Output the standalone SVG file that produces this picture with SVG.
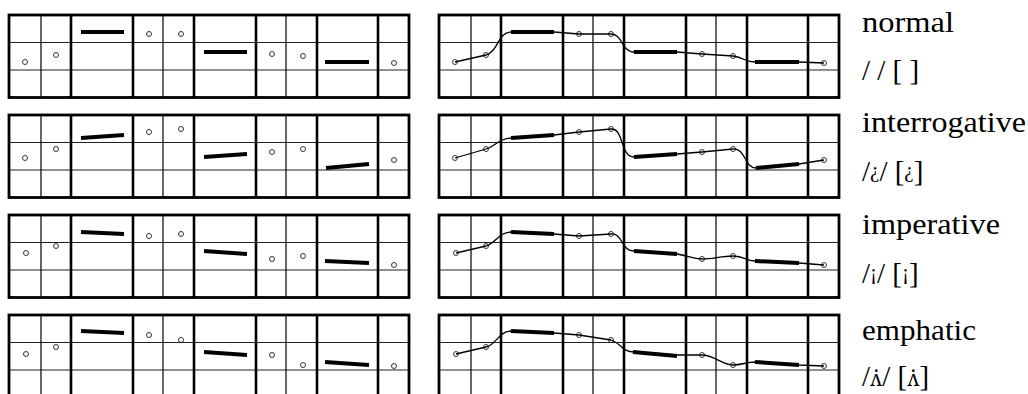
<svg xmlns="http://www.w3.org/2000/svg" xmlns:xlink="http://www.w3.org/1999/xlink" width="1028" height="394" viewBox="0 0 1028 394">
<style>
.outer{fill:#fff;stroke:#000;stroke-width:2.8}
.thick{stroke:#000;stroke-width:2.6}
.thin{stroke:#000;stroke-width:1.2}
.hl{stroke:#222;stroke-width:1.2}
.dot{fill:none;stroke:#222;stroke-width:0.9}
.bar{stroke:#000;stroke-width:4;fill:none}
.curve{stroke:#000;stroke-width:1.3;fill:none}
.lbl{font-size:29px;fill:#000}
.sm{font-size:21px}
</style>
<defs>
<g id="grid">
<rect class="outer" x="0" y="0" width="400" height="82.5"/>
<line class="hl" x1="0" y1="27.5" x2="400" y2="27.5"/>
<line class="hl" x1="0" y1="55" x2="400" y2="55"/>
<line class="thin" x1="32" y1="0" x2="32" y2="82.5"/>
<line class="thin" x1="154" y1="0" x2="154" y2="82.5"/>
<line class="thin" x1="277" y1="0" x2="277" y2="82.5"/>
<line class="thick" x1="62" y1="0" x2="62" y2="82.5"/>
<line class="thick" x1="124" y1="0" x2="124" y2="82.5"/>
<line class="thick" x1="185" y1="0" x2="185" y2="82.5"/>
<line class="thick" x1="247" y1="0" x2="247" y2="82.5"/>
<line class="thick" x1="308" y1="0" x2="308" y2="82.5"/>
<line class="thick" x1="369" y1="0" x2="369" y2="82.5"/>
</g>
</defs>

<g id="normal-left">
<use xlink:href="#grid" x="9" y="15"/>
<circle class="dot" cx="25" cy="62" r="2.5"/><circle class="dot" cx="56" cy="55" r="2.5"/>
<line class="bar" x1="81" y1="32" x2="124" y2="32"/>
<circle class="dot" cx="149" cy="34" r="2.5"/><circle class="dot" cx="181" cy="34" r="2.5"/>
<line class="bar" x1="204" y1="52" x2="247" y2="52"/>
<circle class="dot" cx="272" cy="54" r="2.5"/><circle class="dot" cx="303" cy="56" r="2.5"/>
<line class="bar" x1="325" y1="62" x2="369" y2="62"/>
<circle class="dot" cx="394" cy="63" r="2.5"/>
</g>
<g id="interrogative-left">
<use xlink:href="#grid" x="9" y="115"/>
<circle class="dot" cx="25" cy="158" r="2.5"/><circle class="dot" cx="56" cy="149" r="2.5"/>
<line class="bar" x1="81" y1="138" x2="124" y2="135"/>
<circle class="dot" cx="149" cy="132" r="2.5"/><circle class="dot" cx="181" cy="129" r="2.5"/>
<line class="bar" x1="204" y1="157" x2="247" y2="154"/>
<circle class="dot" cx="272" cy="152" r="2.5"/><circle class="dot" cx="303" cy="149" r="2.5"/>
<line class="bar" x1="326" y1="168" x2="369" y2="164"/>
<circle class="dot" cx="394" cy="160" r="2.5"/>
</g>
<g id="imperative-left">
<use xlink:href="#grid" x="9" y="215"/>
<circle class="dot" cx="26" cy="253" r="2.5"/><circle class="dot" cx="56" cy="246" r="2.5"/>
<line class="bar" x1="81" y1="232" x2="124" y2="234"/>
<circle class="dot" cx="149" cy="236" r="2.5"/><circle class="dot" cx="181" cy="234" r="2.5"/>
<line class="bar" x1="204" y1="251" x2="247" y2="254"/>
<circle class="dot" cx="272" cy="259" r="2.5"/><circle class="dot" cx="303" cy="256" r="2.5"/>
<line class="bar" x1="325" y1="261" x2="369" y2="263"/>
<circle class="dot" cx="394" cy="265" r="2.5"/>
</g>
<g id="emphatic-left">
<use xlink:href="#grid" x="9" y="315"/>
<circle class="dot" cx="26" cy="354" r="2.5"/><circle class="dot" cx="56" cy="347" r="2.5"/>
<line class="bar" x1="81" y1="331" x2="124" y2="333"/>
<circle class="dot" cx="149" cy="335" r="2.5"/><circle class="dot" cx="181" cy="340" r="2.5"/>
<line class="bar" x1="204" y1="352" x2="247" y2="355"/>
<circle class="dot" cx="272" cy="355" r="2.5"/><circle class="dot" cx="303" cy="365" r="2.5"/>
<line class="bar" x1="325" y1="362" x2="369" y2="365"/>
<circle class="dot" cx="394" cy="366" r="2.5"/>
</g>

<g id="normal-right">
<use xlink:href="#grid" x="439" y="15"/>
<line class="bar" x1="511" y1="32" x2="554" y2="32"/>
<line class="bar" x1="634" y1="52" x2="677" y2="52"/>
<line class="bar" x1="755" y1="62" x2="799" y2="62"/>
<circle class="dot" cx="455" cy="62" r="2.5"/><circle class="dot" cx="486" cy="55" r="2.5"/>
<circle class="dot" cx="579" cy="34" r="2.5"/><circle class="dot" cx="611" cy="34" r="2.5"/>
<circle class="dot" cx="702" cy="54" r="2.5"/><circle class="dot" cx="733" cy="56" r="2.5"/>
<circle class="dot" cx="824" cy="63" r="2.5"/>
</g>
<g id="interrogative-right">
<use xlink:href="#grid" x="439" y="115"/>
<line class="bar" x1="511" y1="138" x2="554" y2="135"/>
<line class="bar" x1="634" y1="157" x2="677" y2="154"/>
<line class="bar" x1="756" y1="168" x2="799" y2="164"/>
<circle class="dot" cx="455" cy="158" r="2.5"/><circle class="dot" cx="486" cy="149" r="2.5"/>
<circle class="dot" cx="579" cy="132" r="2.5"/><circle class="dot" cx="611" cy="129" r="2.5"/>
<circle class="dot" cx="702" cy="152" r="2.5"/><circle class="dot" cx="733" cy="149" r="2.5"/>
<circle class="dot" cx="824" cy="160" r="2.5"/>
</g>
<g id="imperative-right">
<use xlink:href="#grid" x="439" y="215"/>
<line class="bar" x1="511" y1="232" x2="554" y2="234"/>
<line class="bar" x1="634" y1="251" x2="677" y2="254"/>
<line class="bar" x1="755" y1="261" x2="799" y2="263"/>
<circle class="dot" cx="456" cy="253" r="2.5"/><circle class="dot" cx="486" cy="246" r="2.5"/>
<circle class="dot" cx="579" cy="236" r="2.5"/><circle class="dot" cx="611" cy="234" r="2.5"/>
<circle class="dot" cx="702" cy="259" r="2.5"/><circle class="dot" cx="733" cy="256" r="2.5"/>
<circle class="dot" cx="824" cy="265" r="2.5"/>
</g>
<g id="emphatic-right">
<use xlink:href="#grid" x="439" y="315"/>
<line class="bar" x1="511" y1="331" x2="554" y2="333"/>
<line class="bar" x1="633" y1="352" x2="677" y2="356"/>
<line class="bar" x1="755" y1="362" x2="799" y2="365"/>
<circle class="dot" cx="456" cy="354" r="2.5"/><circle class="dot" cx="486" cy="347" r="2.5"/>
<circle class="dot" cx="579" cy="335" r="2.5"/><circle class="dot" cx="611" cy="340" r="2.5"/>
<circle class="dot" cx="702" cy="355" r="2.5"/><circle class="dot" cx="733" cy="365" r="2.5"/>
<circle class="dot" cx="824" cy="366" r="2.5"/>
</g>

<g id="connectors">
<path class="curve" d="M455,62 L486,55 C498,52 498,32 511,32 L554,32 L579,34 L611,34 C623,34 621,52 634,52 L677,52 L702,54 L733,56 C745,58 745,62 755,62 L799,62 L824,63"/>
<path class="curve" d="M455,158 L486,149 C496,146 499,138 511,138 L554,135 L579,132 L611,129 C624,128 620,157 634,157 L677,154 L702,152 L733,149 C746,148 744,168 756,168 L799,164 L824,160"/>
<path class="curve" d="M456,253 L486,246 C496,243 499,232 511,232 L554,234 L579,236 L611,234 C623,233 621,251 634,251 L677,254 C690,256 692,259 702,259 C712,259 722,256 733,256 C745,256 745,261 755,261 L799,263 L824,265"/>
<path class="curve" d="M456,354 L486,347 C496,345 499,331 511,331 L554,333 L579,335 L611,340 C621,343 622,352 634,352 L677,355 L702,355 C714,355 722,365 733,365 C742,365 746,362 755,362 L799,365 L824,366"/>
</g>

<g id="labels" font-family="'Liberation Serif', 'DejaVu Serif', serif">
<g id="label-normal">
<text class="lbl" x="862" y="32" textLength="92" lengthAdjust="spacingAndGlyphs">normal</text>
<text class="lbl" x="862" y="80">/ / [ ]</text>
</g>
<g id="label-interrogative">
<text class="lbl" x="862" y="132" textLength="164" lengthAdjust="spacingAndGlyphs">interrogative</text>
<text class="lbl" x="862" y="181">/<tspan class="sm" dy="-4">¿</tspan><tspan dy="4">/ [</tspan><tspan class="sm" dy="-4">¿</tspan><tspan dy="4">]</tspan></text>
</g>
<g id="label-imperative">
<text class="lbl" x="862" y="234" textLength="138" lengthAdjust="spacingAndGlyphs">imperative</text>
<text class="lbl" x="862" y="283">/<tspan class="sm" dy="-4">¡</tspan><tspan dy="4">/ [</tspan><tspan class="sm" dy="-4">¡</tspan><tspan dy="4">]</tspan></text>
</g>
<g id="label-emphatic">
<text class="lbl" x="862" y="340" textLength="114" lengthAdjust="spacingAndGlyphs">emphatic</text>
<text class="lbl" x="862" y="386">/<tspan class="sm" font-family="'Noto Serif', 'DejaVu Serif', serif">ʌ̇</tspan>/ [<tspan class="sm" font-family="'Noto Serif', 'DejaVu Serif', serif">ʌ̇</tspan>]</text>
</g>
</g>
</svg>
